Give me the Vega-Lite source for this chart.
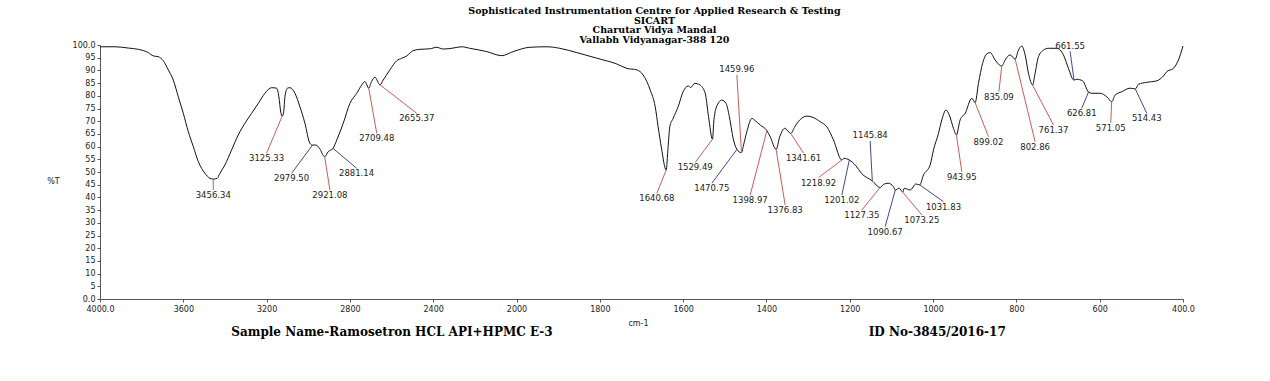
{
  "$schema": "https://vega.github.io/schema/vega-lite/v6.json",
  "width": 1083,
  "height": 254,
  "autosize": {"type": "none"},
  "padding": {"left": 100, "top": 45, "right": 87, "bottom": 82},
  "background": "white",
  "title": {
    "text": ["Sophisticated Instrumentation Centre for Applied Research & Testing", "SICART", "Charutar Vidya Mandal", "Vallabh Vidyanagar-388 120"],
    "font": "DejaVu Serif",
    "fontSize": 9.5,
    "fontWeight": "bold",
    "lineHeight": 9.5,
    "anchor": "middle",
    "offset": 4,
    "dx": 13,
    "dy": 7,
    "color": "#000000"
  },
  "config": {
    "view": {"stroke": null},
    "axis": {
      "grid": false,
      "domainColor": "#555555",
      "tickColor": "#555555",
      "tickSize": 3,
      "labelFont": "DejaVu Sans",
      "labelFontSize": 8,
      "labelColor": "#222222",
      "titleFont": "DejaVu Sans",
      "titleFontSize": 8,
      "titleFontWeight": "normal",
      "titleColor": "#222222",
      "labelOverlap": false,
      "labelBound": false,
      "labelFlush": false
    }
  },
  "datasets": {
    "spectrum": [
      {"wn":4000,"t":99.3},{"wn":3928,"t":99.3},{"wn":3864,"t":98.8},{"wn":3816,"t":98.3},{"wn":3768,"t":97.0},{"wn":3744,"t":95.7},{"wn":3720,"t":95.4},{"wn":3696,"t":93.8},{"wn":3672,"t":90.2},{"wn":3648,"t":86.2},{"wn":3624,"t":79.6},{"wn":3600,"t":73.1},{"wn":3576,"t":65.9},{"wn":3552,"t":60.0},{"wn":3528,"t":54.1},{"wn":3496,"t":49.5},{"wn":3472,"t":47.5},{"wn":3456,"t":47.2},{"wn":3438,"t":47.5},{"wn":3424,"t":49.5},{"wn":3400,"t":52.8},{"wn":3368,"t":58.7},{"wn":3336,"t":64.6},{"wn":3304,"t":69.2},{"wn":3272,"t":73.1},{"wn":3240,"t":77.0},{"wn":3208,"t":81.0},{"wn":3176,"t":83.2},{"wn":3152,"t":83.0},{"wn":3141,"t":79.6},{"wn":3132,"t":73.6},{"wn":3125,"t":72.0},{"wn":3118,"t":73.6},{"wn":3112,"t":79.6},{"wn":3100,"t":83.0},{"wn":3088,"t":83.2},{"wn":3064,"t":81.0},{"wn":3040,"t":75.7},{"wn":3016,"t":69.2},{"wn":2992,"t":61.3},{"wn":2979.5,"t":60.6},{"wn":2963,"t":60.6},{"wn":2946,"t":59.3},{"wn":2921,"t":56.0},{"wn":2904,"t":58.0},{"wn":2881,"t":59.3},{"wn":2863,"t":62.6},{"wn":2832,"t":69.2},{"wn":2800,"t":77.0},{"wn":2767,"t":81.0},{"wn":2743,"t":84.3},{"wn":2728,"t":85.6},{"wn":2709.5,"t":83.0},{"wn":2696,"t":85.6},{"wn":2680,"t":87.3},{"wn":2655,"t":84.3},{"wn":2640,"t":86.2},{"wn":2608,"t":90.2},{"wn":2575,"t":93.8},{"wn":2551,"t":94.8},{"wn":2527,"t":95.7},{"wn":2496,"t":97.8},{"wn":2464,"t":98.3},{"wn":2416,"t":98.5},{"wn":2383,"t":99.1},{"wn":2352,"t":98.4},{"wn":2304,"t":98.8},{"wn":2263,"t":99.3},{"wn":2224,"t":98.7},{"wn":2143,"t":97.4},{"wn":2071,"t":95.8},{"wn":2016,"t":97.4},{"wn":1968,"t":99.1},{"wn":1927,"t":99.3},{"wn":1896,"t":98.7},{"wn":1855,"t":97.0},{"wn":1807,"t":94.8},{"wn":1759,"t":92.5},{"wn":1735,"t":90.8},{"wn":1711,"t":90.2},{"wn":1696,"t":88.2},{"wn":1679,"t":82.3},{"wn":1667,"t":75.7},{"wn":1660,"t":67.8},{"wn":1652,"t":59.4},{"wn":1640.7,"t":50.8},{"wn":1636,"t":60.0},{"wn":1632,"t":67.8},{"wn":1624,"t":71.1},{"wn":1612,"t":75.7},{"wn":1600,"t":81.6},{"wn":1588,"t":83.9},{"wn":1582,"t":83.3},{"wn":1572,"t":84.9},{"wn":1560,"t":84.3},{"wn":1547,"t":81.0},{"wn":1539,"t":71.8},{"wn":1529.5,"t":62.9},{"wn":1526,"t":70.5},{"wn":1518,"t":76.4},{"wn":1507,"t":78.3},{"wn":1497,"t":77.0},{"wn":1489,"t":71.8},{"wn":1480,"t":63.3},{"wn":1470.8,"t":58.9},{"wn":1460,"t":57.6},{"wn":1455,"t":60.6},{"wn":1447,"t":65.9},{"wn":1435,"t":71.1},{"wn":1427,"t":70.2},{"wn":1415,"t":68.5},{"wn":1399,"t":66.3},{"wn":1391,"t":63.9},{"wn":1376.8,"t":58.9},{"wn":1368,"t":63.9},{"wn":1356,"t":67.2},{"wn":1341.6,"t":65.2},{"wn":1332,"t":67.8},{"wn":1320,"t":70.5},{"wn":1303,"t":72.0},{"wn":1288,"t":71.5},{"wn":1271,"t":69.8},{"wn":1255,"t":67.8},{"wn":1239,"t":62.6},{"wn":1219,"t":54.7},{"wn":1214,"t":55.4},{"wn":1201,"t":54.7},{"wn":1185,"t":52.4},{"wn":1172,"t":49.5},{"wn":1146,"t":46.5},{"wn":1127,"t":43.9},{"wn":1119,"t":45.1},{"wn":1108,"t":45.6},{"wn":1095,"t":44.2},{"wn":1090.7,"t":42.9},{"wn":1081,"t":43.6},{"wn":1073,"t":42.1},{"wn":1069,"t":43.6},{"wn":1055,"t":42.9},{"wn":1041,"t":45.3},{"wn":1032,"t":44.9},{"wn":1023,"t":48.8},{"wn":1007,"t":52.8},{"wn":999,"t":58.7},{"wn":987,"t":65.2},{"wn":979,"t":70.5},{"wn":969,"t":74.4},{"wn":961,"t":72.4},{"wn":951,"t":67.2},{"wn":944,"t":64.6},{"wn":935,"t":70.5},{"wn":923,"t":73.1},{"wn":907,"t":79.0},{"wn":899,"t":77.3},{"wn":891,"t":84.9},{"wn":881,"t":92.8},{"wn":871,"t":96.5},{"wn":863,"t":97.0},{"wn":851,"t":94.1},{"wn":835,"t":91.7},{"wn":827,"t":94.1},{"wn":815,"t":96.1},{"wn":803,"t":94.4},{"wn":795,"t":98.0},{"wn":787,"t":99.6},{"wn":779,"t":96.1},{"wn":771,"t":88.9},{"wn":761,"t":84.3},{"wn":755,"t":88.9},{"wn":747,"t":95.4},{"wn":735,"t":98.0},{"wn":723,"t":98.7},{"wn":703,"t":98.7},{"wn":687,"t":96.1},{"wn":675,"t":90.8},{"wn":662,"t":86.2},{"wn":655,"t":86.5},{"wn":641,"t":85.9},{"wn":627,"t":81.5},{"wn":619,"t":81.0},{"wn":599,"t":81.0},{"wn":583,"t":79.6},{"wn":571,"t":77.7},{"wn":563,"t":80.3},{"wn":547,"t":81.6},{"wn":527,"t":83.0},{"wn":514,"t":82.7},{"wn":507,"t":84.5},{"wn":487,"t":85.3},{"wn":463,"t":85.9},{"wn":447,"t":87.8},{"wn":439,"t":89.5},{"wn":423,"t":90.8},{"wn":411,"t":94.1},{"wn":400,"t":99.6}
    ],
    "peaks": [
      {"label":"3456.34","wn":3456.34,"t":47.2,"lwn":3456,"lt":42.9,"kind":"A"},
      {"label":"3125.33","wn":3125.33,"t":72.0,"lwn":3200,"lt":57.4,"kind":"A"},
      {"label":"2979.50","wn":2979.5,"t":60.6,"lwn":3080,"lt":49.5,"kind":"B"},
      {"label":"2921.08","wn":2921.08,"t":56.0,"lwn":2896,"lt":42.9,"kind":"A"},
      {"label":"2881.14","wn":2881.14,"t":59.3,"lwn":2768,"lt":51.5,"kind":"B"},
      {"label":"2709.48","wn":2709.48,"t":83.0,"lwn":2671,"lt":65.2,"kind":"A"},
      {"label":"2655.37","wn":2655.37,"t":84.3,"lwn":2479,"lt":73.1,"kind":"A"},
      {"label":"1640.68","wn":1640.68,"t":50.8,"lwn":1663,"lt":41.6,"kind":"A"},
      {"label":"1529.49","wn":1529.49,"t":62.9,"lwn":1571,"lt":53.8,"kind":"A"},
      {"label":"1459.96","wn":1459.96,"t":57.6,"lwn":1471,"lt":88.2,"kind":"A"},
      {"label":"1470.75","wn":1470.75,"t":58.9,"lwn":1531,"lt":45.6,"kind":"B"},
      {"label":"1398.97","wn":1398.97,"t":66.3,"lwn":1439,"lt":40.9,"kind":"A"},
      {"label":"1376.83","wn":1376.83,"t":58.9,"lwn":1355,"lt":37.0,"kind":"A"},
      {"label":"1341.61","wn":1341.61,"t":65.2,"lwn":1311,"lt":57.4,"kind":"A"},
      {"label":"1218.92","wn":1218.92,"t":54.7,"lwn":1275,"lt":47.8,"kind":"A"},
      {"label":"1201.02","wn":1201.02,"t":54.7,"lwn":1219,"lt":40.9,"kind":"B"},
      {"label":"1145.84","wn":1145.84,"t":46.5,"lwn":1151,"lt":62.2,"kind":"B"},
      {"label":"1127.35","wn":1127.35,"t":43.9,"lwn":1171,"lt":35.0,"kind":"A"},
      {"label":"1090.67","wn":1090.67,"t":42.9,"lwn":1115,"lt":28.5,"kind":"B"},
      {"label":"1073.25","wn":1073.25,"t":42.1,"lwn":1027,"lt":33.1,"kind":"A"},
      {"label":"1031.83","wn":1031.83,"t":44.9,"lwn":975,"lt":38.3,"kind":"B"},
      {"label":"943.95","wn":943.95,"t":64.6,"lwn":931,"lt":50.1,"kind":"A"},
      {"label":"899.02","wn":899.02,"t":77.3,"lwn":867,"lt":63.9,"kind":"A"},
      {"label":"835.09","wn":835.09,"t":91.7,"lwn":842,"lt":81.6,"kind":"A"},
      {"label":"802.86","wn":802.86,"t":94.4,"lwn":755,"lt":61.9,"kind":"A"},
      {"label":"761.37","wn":761.37,"t":84.3,"lwn":711,"lt":68.5,"kind":"A"},
      {"label":"661.55","wn":661.55,"t":86.2,"lwn":671,"lt":97.4,"kind":"B"},
      {"label":"626.81","wn":626.81,"t":81.5,"lwn":643,"lt":75.1,"kind":"B"},
      {"label":"571.05","wn":571.05,"t":77.7,"lwn":573.5,"lt":69.4,"kind":"A"},
      {"label":"514.43","wn":514.43,"t":82.7,"lwn":487,"lt":73.1,"kind":"B"}
    ],
    "notes": [
      {"note":"Sample Name-Ramosetron HCL API+HPMC E-3","wn":2598,"t":-12.8},
      {"note":"ID No-3845/2016-17","wn":990,"t":-12.8}
    ]
  },
  "layer": [
    {
      "data": {"name": "spectrum"},
      "mark": {"type": "line", "color": "#111111", "strokeWidth": 1, "interpolate": "monotone"},
      "encoding": {
        "x": {
          "field": "wn", "type": "quantitative",
          "scale": {"domain": [4000, 2000, 400], "range": [0, 416.5, 1083], "nice": false, "zero": false},
          "axis": {"values": [4000, 3600, 3200, 2800, 2400, 2000, 1800, 1600, 1400, 1200, 1000, 800, 600, 400], "format": "d", "labelExpr": "datum.value == 4000 ? '4000.0' : datum.value == 400 ? '400.0' : datum.label", "title": "cm-1", "titleX": 538, "titleY": 20, "titleAnchor": "middle", "labelPadding": 3}
        },
        "y": {
          "field": "t", "type": "quantitative",
          "scale": {"domain": [0, 100], "nice": false, "zero": false},
          "axis": {"values": [0, 5, 10, 15, 20, 25, 30, 35, 40, 45, 50, 55, 60, 65, 70, 75, 80, 85, 90, 95, 100], "labelExpr": "datum.value == 100 ? '100.0' : datum.value == 0 ? '0.0' : datum.label", "title": "%T", "titleAngle": 0, "titleX": -47, "titleY": 136, "titleAlign": "center", "titleBaseline": "middle", "labelPadding": 2}
        }
      }
    },
    {
      "data": {"name": "peaks"},
      "mark": {"type": "rule", "strokeWidth": 1},
      "encoding": {
        "x": {
          "field": "wn", "type": "quantitative",
          "scale": {"domain": [4000, 2000, 400], "range": [0, 416.5, 1083], "nice": false, "zero": false},
          "axis": {"values": [4000, 3600, 3200, 2800, 2400, 2000, 1800, 1600, 1400, 1200, 1000, 800, 600, 400], "format": "d", "labelExpr": "datum.value == 4000 ? '4000.0' : datum.value == 400 ? '400.0' : datum.label", "title": "cm-1", "titleX": 538, "titleY": 20, "titleAnchor": "middle", "labelPadding": 3}
        },
        "y": {
          "field": "t", "type": "quantitative",
          "scale": {"domain": [0, 100], "nice": false, "zero": false},
          "axis": {"values": [0, 5, 10, 15, 20, 25, 30, 35, 40, 45, 50, 55, 60, 65, 70, 75, 80, 85, 90, 95, 100], "labelExpr": "datum.value == 100 ? '100.0' : datum.value == 0 ? '0.0' : datum.label", "title": "%T", "titleAngle": 0, "titleX": -47, "titleY": 136, "titleAlign": "center", "titleBaseline": "middle", "labelPadding": 2}
        },
        "x2": {"field": "lwn"},
        "y2": {"field": "lt"},
        "color": {"field": "kind", "type": "nominal", "scale": {"domain": ["A", "B"], "range": ["#cc5a5a", "#45459a"]}, "legend": null}
      }
    },
    {
      "data": {"name": "peaks"},
      "transform": [{"filter": "datum.lt < datum.t"}],
      "mark": {"type": "text", "baseline": "top", "align": "center", "dy": 1, "font": "DejaVu Sans", "fontSize": 8.5, "color": "#222222"},
      "encoding": {
        "x": {
          "field": "lwn", "type": "quantitative",
          "scale": {"domain": [4000, 2000, 400], "range": [0, 416.5, 1083], "nice": false, "zero": false},
          "axis": {"values": [4000, 3600, 3200, 2800, 2400, 2000, 1800, 1600, 1400, 1200, 1000, 800, 600, 400], "format": "d", "labelExpr": "datum.value == 4000 ? '4000.0' : datum.value == 400 ? '400.0' : datum.label", "title": "cm-1", "titleX": 538, "titleY": 20, "titleAnchor": "middle", "labelPadding": 3}
        },
        "y": {
          "field": "lt", "type": "quantitative",
          "scale": {"domain": [0, 100], "nice": false, "zero": false},
          "axis": {"values": [0, 5, 10, 15, 20, 25, 30, 35, 40, 45, 50, 55, 60, 65, 70, 75, 80, 85, 90, 95, 100], "labelExpr": "datum.value == 100 ? '100.0' : datum.value == 0 ? '0.0' : datum.label", "title": "%T", "titleAngle": 0, "titleX": -47, "titleY": 136, "titleAlign": "center", "titleBaseline": "middle", "labelPadding": 2}
        },
        "text": {"field": "label"}
      }
    },
    {
      "data": {"name": "peaks"},
      "transform": [{"filter": "datum.lt > datum.t"}],
      "mark": {"type": "text", "baseline": "bottom", "align": "center", "dy": -1, "font": "DejaVu Sans", "fontSize": 8.5, "color": "#222222"},
      "encoding": {
        "x": {
          "field": "lwn", "type": "quantitative",
          "scale": {"domain": [4000, 2000, 400], "range": [0, 416.5, 1083], "nice": false, "zero": false},
          "axis": {"values": [4000, 3600, 3200, 2800, 2400, 2000, 1800, 1600, 1400, 1200, 1000, 800, 600, 400], "format": "d", "labelExpr": "datum.value == 4000 ? '4000.0' : datum.value == 400 ? '400.0' : datum.label", "title": "cm-1", "titleX": 538, "titleY": 20, "titleAnchor": "middle", "labelPadding": 3}
        },
        "y": {
          "field": "lt", "type": "quantitative",
          "scale": {"domain": [0, 100], "nice": false, "zero": false},
          "axis": {"values": [0, 5, 10, 15, 20, 25, 30, 35, 40, 45, 50, 55, 60, 65, 70, 75, 80, 85, 90, 95, 100], "labelExpr": "datum.value == 100 ? '100.0' : datum.value == 0 ? '0.0' : datum.label", "title": "%T", "titleAngle": 0, "titleX": -47, "titleY": 136, "titleAlign": "center", "titleBaseline": "middle", "labelPadding": 2}
        },
        "text": {"field": "label"}
      }
    },
    {
      "data": {"name": "notes"},
      "mark": {"type": "text", "baseline": "middle", "align": "center", "font": "DejaVu Serif", "fontSize": 12, "fontWeight": "bold", "color": "#000000"},
      "encoding": {
        "x": {
          "field": "wn", "type": "quantitative",
          "scale": {"domain": [4000, 2000, 400], "range": [0, 416.5, 1083], "nice": false, "zero": false},
          "axis": {"values": [4000, 3600, 3200, 2800, 2400, 2000, 1800, 1600, 1400, 1200, 1000, 800, 600, 400], "format": "d", "labelExpr": "datum.value == 4000 ? '4000.0' : datum.value == 400 ? '400.0' : datum.label", "title": "cm-1", "titleX": 538, "titleY": 20, "titleAnchor": "middle", "labelPadding": 3}
        },
        "y": {
          "field": "t", "type": "quantitative",
          "scale": {"domain": [0, 100], "nice": false, "zero": false},
          "axis": {"values": [0, 5, 10, 15, 20, 25, 30, 35, 40, 45, 50, 55, 60, 65, 70, 75, 80, 85, 90, 95, 100], "labelExpr": "datum.value == 100 ? '100.0' : datum.value == 0 ? '0.0' : datum.label", "title": "%T", "titleAngle": 0, "titleX": -47, "titleY": 136, "titleAlign": "center", "titleBaseline": "middle", "labelPadding": 2}
        },
        "text": {"field": "note"}
      }
    }
  ]
}
